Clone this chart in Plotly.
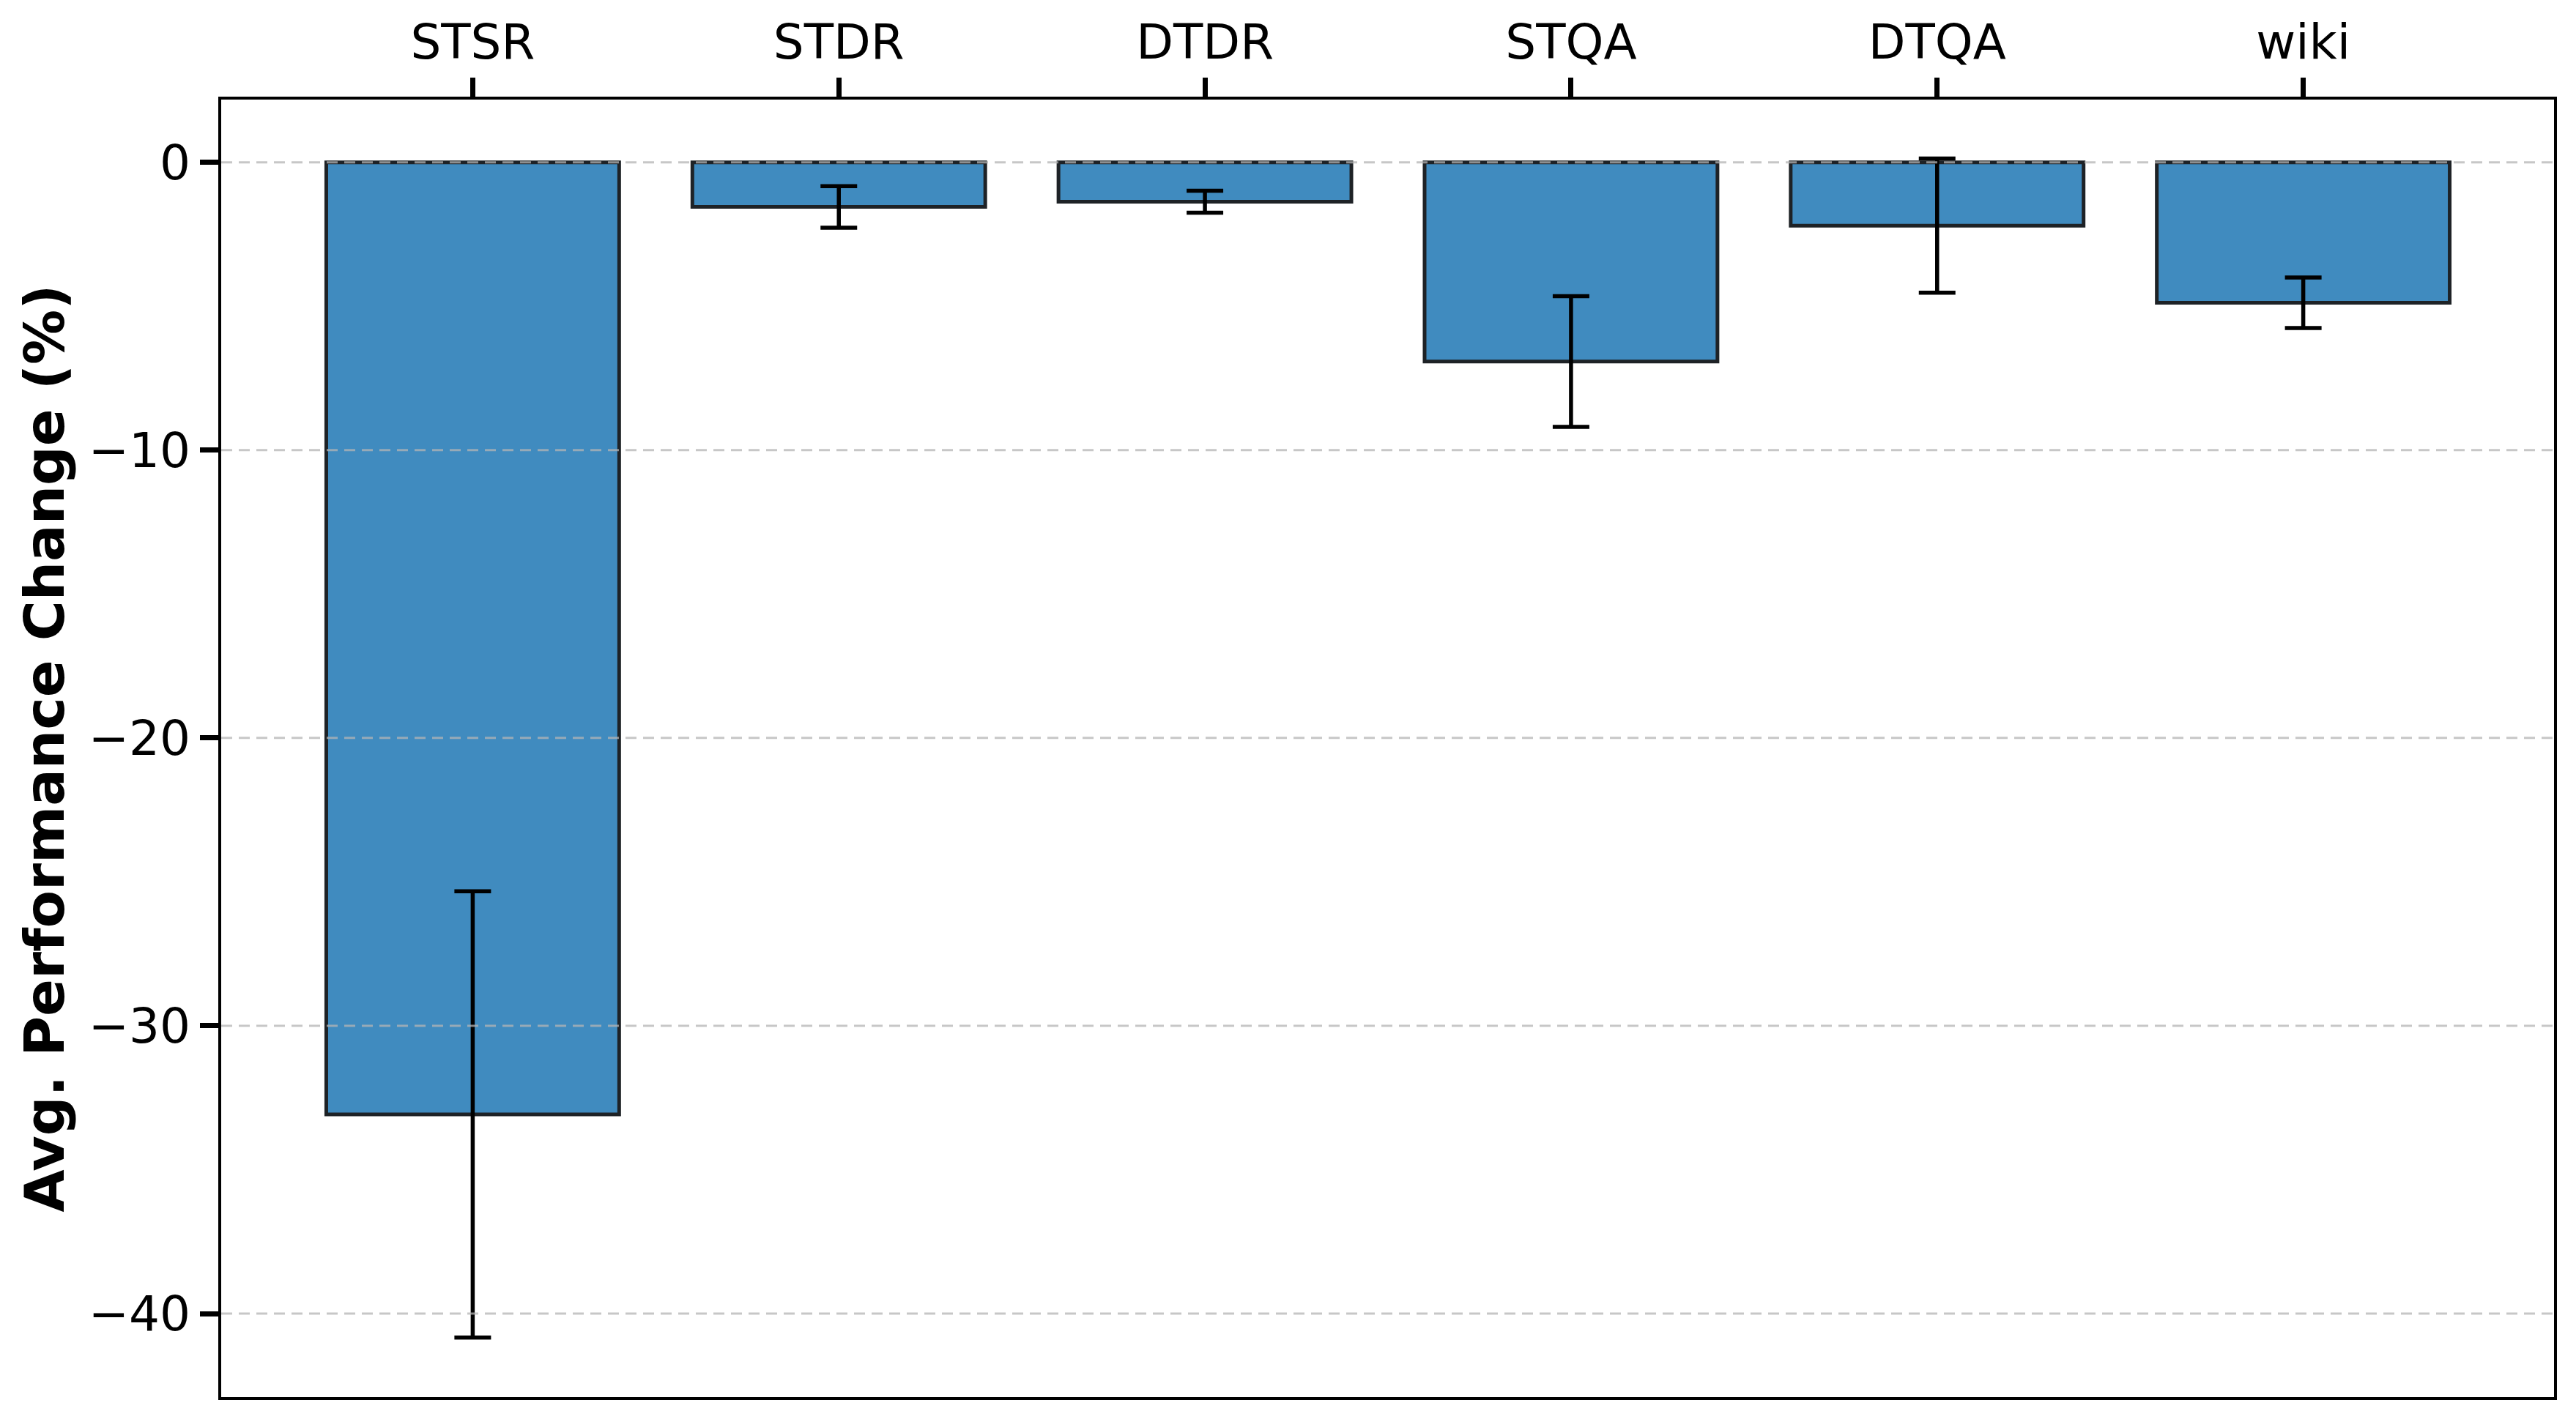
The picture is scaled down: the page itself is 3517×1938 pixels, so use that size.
import plotly.graph_objects as go

categories = ["STSR", "STDR", "DTDR", "STQA", "DTQA", "wiki"]
mean_change = [-33.08, -1.55, -1.37, -6.92, -2.20, -4.88]
std_change = [7.75, 0.72, 0.38, 2.27, 2.33, 0.88]
y_ticks = [0, -10, -20, -30, -40]

W, H = 3517, 1938
FONT = "DejaVu Sans"
OFF = 8  # default page body margin

x_pos = list(range(len(categories)))

fig = go.Figure()
fig.add_trace(go.Bar(
    x=x_pos, y=mean_change, width=0.8,
    marker=dict(color="rgba(31,119,180,0.85)",
                line=dict(color="#1e2226", width=5)),
    error_y=dict(type="data", array=std_change, visible=True,
                 color="black", thickness=5.5, width=25),
    showlegend=False,
))

for v in y_ticks:
    fig.add_shape(type="line", xref="paper", x0=0, x1=1, yref="y", y0=v, y1=v,
                  line=dict(color="rgba(180,180,180,0.75)", width=3, dash="15px,9px"),
                  layer="above")

fig.update_layout(
    width=W, height=H,
    margin=dict(l=302 - OFF, r=30 + OFF, t=136 - OFF, b=30 + OFF),
    plot_bgcolor="white", paper_bgcolor="white",
    font=dict(family=FONT, size=66, color="black"),
)
fig.update_xaxes(
    side="top", range=[-0.687, 5.685],
    tickmode="array", tickvals=x_pos, ticktext=categories,
    ticks="outside", ticklen=26, tickwidth=7, tickcolor="black",
    showline=True, linecolor="black", linewidth=3.5, mirror=True,
    showgrid=False, zeroline=False,
    tickfont=dict(family=FONT, size=66, color="black"),
)
fig.update_yaxes(
    range=[-42.9, 2.18],
    tickmode="array", tickvals=y_ticks,
    ticks="outside", ticklen=25, tickwidth=7, tickcolor="black",
    showline=True, linecolor="black", linewidth=3.5, mirror=True,
    showgrid=False, zeroline=False,
    tickfont=dict(family=FONT, size=66, color="black"),
    title=dict(text="<b>Avg. Performance Change (%)</b>",
               font=dict(family=FONT, size=75, color="black"), standoff=10),
)

fig.write_html("out.html")
